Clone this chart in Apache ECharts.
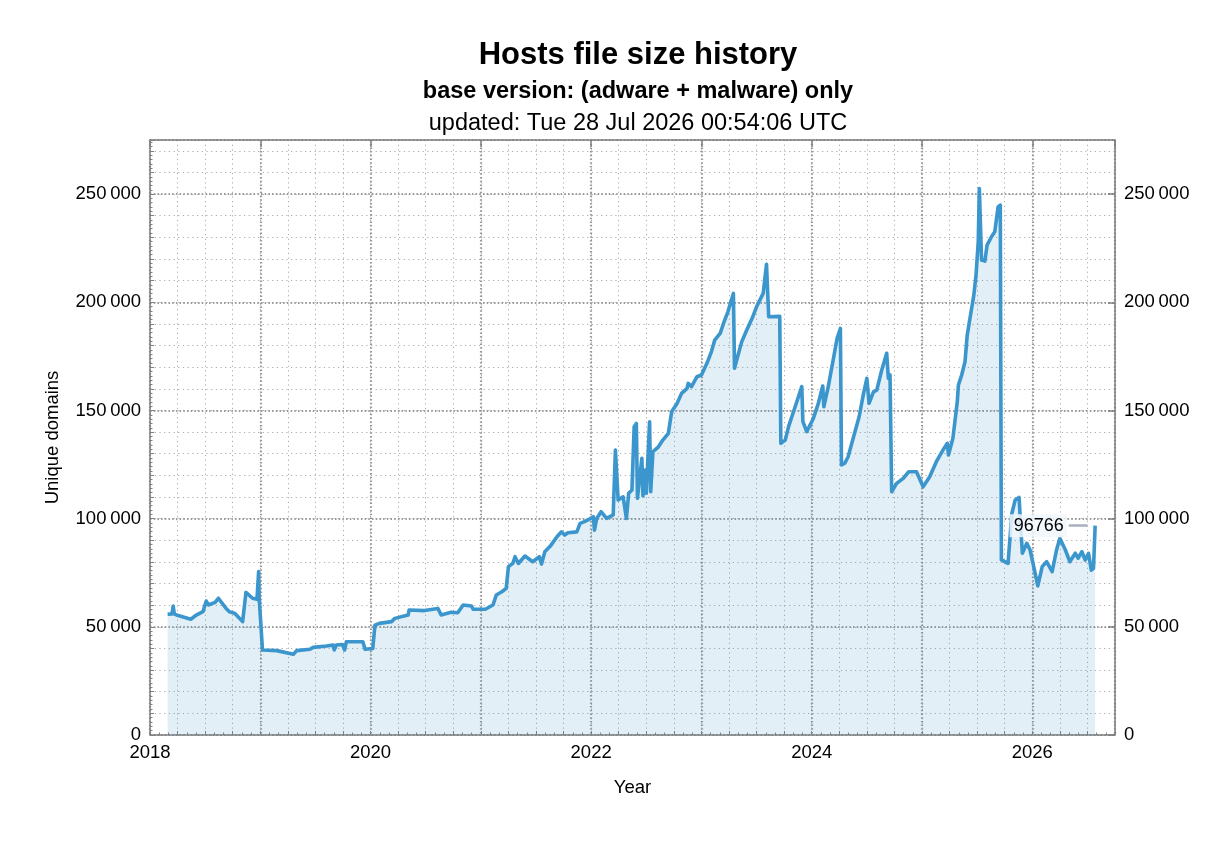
<!DOCTYPE html>
<html><head><meta charset="utf-8">
<script src="https://cdn.jsdelivr.net/npm/echarts/dist/echarts.min.js"></script>
<style>html,body{margin:0;padding:0;background:#fff}#c{width:1232px;height:841px}</style>
</head><body><div id="c"></div>
<script>
const titleText = 'Hosts file size history';
const subtitleText = 'base version: (adware + malware) only';
const updatedText = 'updated: Tue 28 Jul 2026 00:54:06 UTC';
const yAxisName = 'Unique domains';
const xAxisName = 'Year';

// decimal years
const years = [
2018.16,2018.20,2018.21,2018.22,2018.24,2018.37,2018.42,2018.48,2018.51,2018.53,2018.59,2018.62,2018.69,2018.72,2018.77,2018.84,2018.87,2018.93,2018.97,2018.985,2018.99,
2019.02,2019.15,2019.30,2019.33,2019.45,2019.48,2019.60,2019.66,2019.67,2019.69,2019.745,2019.765,2019.78,2019.93,2019.95,
2020.02,2020.04,2020.08,2020.19,2020.22,2020.34,2020.35,2020.49,2020.61,2020.64,2020.73,2020.79,2020.84,2020.915,2020.93,
2021.04,2021.11,2021.14,2021.19,2021.23,2021.25,2021.29,2021.31,2021.34,2021.40,2021.47,2021.53,2021.55,2021.58,2021.63,2021.69,2021.73,2021.76,2021.79,2021.87,2021.90,2021.94,2021.97,
2022.02,2022.03,2022.05,2022.09,2022.14,2022.20,2022.22,2022.245,2022.29,2022.32,2022.34,2022.37,2022.39,2022.41,2022.42,2022.46,2022.47,2022.49,2022.50,2022.53,2022.54,2022.56,2022.61,2022.65,2022.70,2022.73,2022.78,2022.82,2022.87,2022.88,2022.91,2022.96,
2023.00,2023.05,2023.09,2023.12,2023.17,2023.20,2023.24,2023.29,2023.30,2023.32,2023.365,2023.41,2023.46,2023.50,2023.56,2023.59,2023.61,2023.71,2023.72,2023.76,2023.79,2023.85,2023.91,2023.92,2023.955,
2024.015,2024.06,2024.10,2024.11,2024.15,2024.20,2024.23,2024.26,2024.27,2024.30,2024.33,2024.38,2024.43,2024.47,2024.50,2024.52,2024.56,2024.59,2024.635,2024.68,2024.695,2024.71,2024.725,2024.77,2024.83,2024.88,2024.95,
2025.01,2025.07,2025.13,2025.19,2025.23,2025.24,2025.28,2025.32,2025.33,2025.36,2025.39,2025.41,2025.44,2025.47,2025.49,2025.51,2025.52,2025.54,2025.57,2025.59,2025.63,2025.66,2025.69,2025.71,2025.72,2025.78,2025.815,2025.845,2025.88,2025.91,2025.95,2025.98,
2026.02,2026.05,2026.09,2026.13,2026.18,2026.22,2026.25,2026.30,2026.34,2026.39,2026.415,2026.45,2026.48,2026.51,2026.535,2026.555,2026.57
];
const domains = [
55800,56000,59600,56000,55450,53500,55450,57000,61900,60100,61300,63200,58500,57000,56200,52400,65900,63200,62700,75500,63200,
39300,39000,37300,39000,39600,40500,41100,41600,39300,41600,41800,39300,43100,43100,39600,
40000,50800,51600,52400,53900,55450,57800,57500,58500,55500,56700,56500,60100,59600,58100,
58100,60100,64700,66200,67800,77800,79300,82400,79300,82700,80100,82400,79000,84700,87300,91600,93900,92400,93500,93900,97800,98600,99400,
100900,94700,100000,103200,100100,101700,131700,108600,110100,100100,111700,113200,142500,144000,109400,127900,110500,122500,111700,144800,112400,130900,133200,136300,139400,149400,153300,157900,160200,162500,161000,165600,
166400,171800,177100,182500,185600,190200,195600,204100,169500,173300,181700,187100,192600,197900,204100,217600,193300,193500,134800,136300,142500,151700,161000,144800,140200,
146300,153300,161300,151700,161000,174800,183300,187900,124800,125600,128600,137900,147100,157900,164800,153300,158600,159400,168700,176400,164800,166400,112400,116300,118600,121700,121700,
114700,119400,126300,131700,134800,129400,137100,154000,161700,166400,172500,184800,194100,203300,212600,228000,252600,219500,219000,226400,230300,232600,244100,244900,80900,79300,102400,108600,109800,84000,88600,85500,
76200,68900,77800,80100,75500,85500,90900,85500,80100,84000,81700,84700,80900,84000,76200,77000,96766
];

const xMin = 2018, xMax = 2026.75;
const yMin = 0, yMax = 275000;

const seriesData = years.map((y, i) => [y, domains[i]]);
const lastYear = years[years.length - 1];
const lastVal = domains[domains.length - 1];

const FONT = 'Liberation Sans, Arial, Helvetica, sans-serif';
const lightGrid = { color: '#ababab', width: 1, type: [1.2, 3.5] };
const denseGrid = { color: '#9a9a9a', width: 2.2, type: [1.5, 2.2] };
const axisLineStyle = { color: '#808080', width: 1.5 };
const fmtY = v => (v % 50000 !== 0) ? '' : (v === 0 ? '0' : (v / 1000) + '\u2009000');

const chart = echarts.init(document.getElementById('c'), null, { renderer: 'canvas' });
chart.setOption({
  backgroundColor: '#fff',
  animation: false,
  textStyle: { fontFamily: FONT },
  title: [
    { text: titleText, left: 633, top: 35, textAlign: 'center', textStyle: { fontFamily: FONT, fontSize: 31, fontWeight: 'bold', color: '#000' } },
    { text: subtitleText, left: 633, top: 75, textAlign: 'center', textStyle: { fontFamily: FONT, fontSize: 23.5, fontWeight: 'bold', color: '#000' } },
    { text: updatedText, left: 633, top: 107, textAlign: 'center', textStyle: { fontFamily: FONT, fontSize: 23.5, fontWeight: 'normal', color: '#000' } }
  ],
  grid: { left: 150, top: 140, width: 965, height: 595, containLabel: false },
  xAxis: [
    {
      type: 'value', position: 'bottom', min: xMin, max: xMax, interval: 0.25,
      name: xAxisName, nameLocation: 'middle', nameGap: 43,
      nameTextStyle: { fontFamily: FONT, fontSize: 18.5, color: '#000' },
      axisLine: { show: true, onZero: false, lineStyle: axisLineStyle },
      axisTick: { show: true, inside: true, length: 4, lineStyle: { color: '#808080' } },
      minorTick: { show: true, splitNumber: 3, length: 2.5, lineStyle: { color: '#808080' } },
      axisLabel: {
        margin: 8, fontFamily: FONT, fontSize: 18.5, color: '#000',
        formatter: v => (Math.abs(v - Math.round(v)) < 1e-6 && Math.round(v) % 2 === 0) ? String(Math.round(v)) : '',
        showMaxLabel: false
      },
      splitLine: { show: true, lineStyle: lightGrid }
    },
    {
      type: 'value', position: 'top', min: xMin, max: xMax, interval: 1,
      axisLine: { show: true, onZero: false, lineStyle: axisLineStyle },
      axisTick: { show: true, inside: true, length: 7, lineStyle: { color: '#808080', width: 1.5 } },
      axisLabel: { show: false },
      splitLine: { show: true, lineStyle: denseGrid }
    }
  ],
  yAxis: [
    {
      type: 'value', position: 'left', min: yMin, max: yMax, interval: 10000,
      name: yAxisName, nameLocation: 'middle', nameGap: 88, nameRotate: 90,
      nameTextStyle: { fontFamily: FONT, fontSize: 18.5, color: '#000' },
      axisLine: { show: true, onZero: false, lineStyle: axisLineStyle },
      axisTick: { show: true, inside: true, length: 4, lineStyle: { color: '#808080' } },
      minorTick: { show: true, splitNumber: 5, length: 2.5, lineStyle: { color: '#808080' } },
      axisLabel: { margin: 9, fontFamily: FONT, fontSize: 18.5, color: '#000', formatter: fmtY, showMaxLabel: false },
      splitLine: { show: true, lineStyle: lightGrid }
    },
    {
      type: 'value', position: 'right', min: yMin, max: yMax, interval: 50000,
      axisLine: { show: true, onZero: false, lineStyle: axisLineStyle },
      axisTick: { show: true, inside: true, length: 7, lineStyle: { color: '#808080', width: 1.5 } },
      axisLabel: { margin: 9, fontFamily: FONT, fontSize: 18.5, color: '#000', formatter: fmtY, showMaxLabel: false },
      splitLine: { show: true, lineStyle: denseGrid }
    }
  ],
  series: [
    {
      type: 'line', xAxisIndex: 0, yAxisIndex: 0,
      data: seriesData,
      showSymbol: false, symbol: 'none',
      lineStyle: { color: '#3a96cc', width: 3.6, join: 'round' },
      areaStyle: { color: 'rgba(58,150,204,0.21)', origin: 'start' },
      z: 5,
      markLine: {
        silent: true, symbol: 'none', animation: false, z: 20,
        lineStyle: { color: '#a9b1bd', width: 2.5, type: 'solid' },
        label: {
          show: true, position: 'start', distance: 2,
          formatter: String(lastVal),
          fontFamily: FONT, fontSize: 18, color: '#000',
          backgroundColor: 'rgba(240,247,252,0.85)', padding: [3, 3, 2, 4]
        },
        data: [[
          { coord: [lastYear - 0.24, lastVal] },
          { coord: [lastYear - 0.07, lastVal] }
        ]]
      }
    }
  ]
});
</script>
</body></html>
